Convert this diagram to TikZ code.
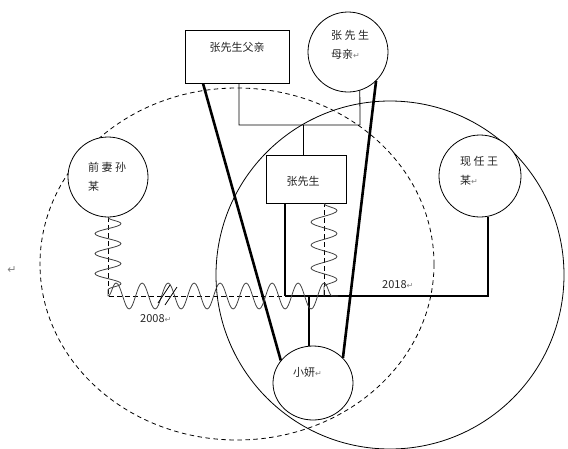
\documentclass[tikz,border=0pt]{standalone}
\usepackage{fontspec}
\setmainfont{Noto Sans CJK SC}
\newfontfamily\dvfont{DejaVu Sans}
\usetikzlibrary{decorations.pathmorphing,shapes.geometric}
\newcommand\retmark{{\dvfont\fontsize{8}{8}\selectfont\textcolor{gray}{↵}}}
\begin{document}
\begin{tikzpicture}[x=1pt,y=-1pt,
  personbox/.style={draw, line width=0.8pt, fill=white, rectangle, inner sep=0pt},
  personcirc/.style={draw, line width=0.8pt, fill=white, circle, inner sep=0pt},
  lbl/.style={font=\fontsize{11}{19}\selectfont, align=left, inner sep=0pt, text=black!85},
  heavy/.style={line width=2.6pt},
  link/.style={line width=0.8pt},
  midline/.style={line width=1.6pt},
  timeline/.style={line width=0.8pt, dash pattern=on 4.5pt off 3.5pt},
  squiggle/.style={decorate, decoration={snake, amplitude=13pt, segment length=#1}, line width=0.8pt, black!75},
  squiggle/.default=20pt
]
\useasboundingbox (0,0) rectangle (568,448);

% large background circles
\draw[line width=0.8pt] (390,275) circle[radius=174pt];
\draw[timeline] (237,264) ellipse[x radius=197pt, y radius=176pt];

% persons
\node[personbox, minimum width=104pt, minimum height=53pt] (father) at (237,56.5) {};
\node[lbl] (fatherlbl) at (237,47) {张先生父亲};

\node[personcirc, minimum size=80pt] (mother) at (348,52) {};
\node[lbl, anchor=west] (motherlbl) at (331,44.5) {张 先 生\\母亲\retmark};

\node[personcirc, minimum size=80pt] (ex) at (108,177) {};
\node[lbl, anchor=west] (exlbl) at (88,177) {前 妻 孙\\某};

\node[personcirc, minimum size=82pt] (wife) at (480,176) {};
\node[lbl, anchor=west] (wifelbl) at (460,171) {现 任 王\\某\retmark};

\node[personbox, minimum width=80pt, minimum height=48pt] (zhang) at (306,179) {};
\node[lbl] (zhanglbl) at (303,181) {张先生};

\node[draw, ellipse, fill=white, line width=0.8pt, minimum width=80pt, minimum height=74pt, inner sep=0pt] (xy) at (313,383) {};
\node[lbl, anchor=west] (xylbl) at (293,372) {小妍\retmark};

\node[lbl, anchor=west] (y2018) at (382,285) {2018\retmark};
\node[lbl, anchor=west] (y2008) at (140,319) {2008\retmark};
\node[inner sep=0pt, font=\fontsize{11}{11}\selectfont] (lm) at (12,270) {\dvfont\textcolor{gray}{↵}};

% helper coordinates
\coordinate (pl) at (239,125);
\coordinate (pr) at (360,125);
\coordinate (pm) at (303,125);
\coordinate (fl) at (203,0);
\coordinate (jl) at (285,296);
\coordinate (jr) at (488,296);
\coordinate (jx) at (309,296);
\coordinate (dl) at (108,296);
\coordinate (dr) at (324,296);
\coordinate (de) at (338,296);

% parents of Zhang
\draw[link] (father.south -| pl) -- (pl) -- (pr) -- (mother.-73);
\draw[link] (pm) -- (pm |- zhang.north);

% parents of Xiaoyan
\draw[heavy] (father.south -| fl) -- (xy.145);
\draw[heavy] (mother.-46) -- (xy.40);

% current marriage 2018
\draw[midline] (zhang.south -| jl) -- (jl);
\draw[line width=2pt, line join=miter] (jl) -- (jr) -- (jr |- wife.south);
\draw[midline] (jx) -- (xy.north -| jx);

% former marriage 2008
\draw[timeline] (ex.south) -- (dl) -- (dr) -- (zhang.south -| dr);
\draw[squiggle=20pt] (ex.south) -- (dl);
\draw[squiggle=26pt] (dl) -- (de);
\draw[squiggle=23pt] (zhang.south -| dr) -- (dr);
\draw[link] (158,303) -- (170,285);
\draw[link] (165,305) -- (177,287);
\end{tikzpicture}
\end{document}
